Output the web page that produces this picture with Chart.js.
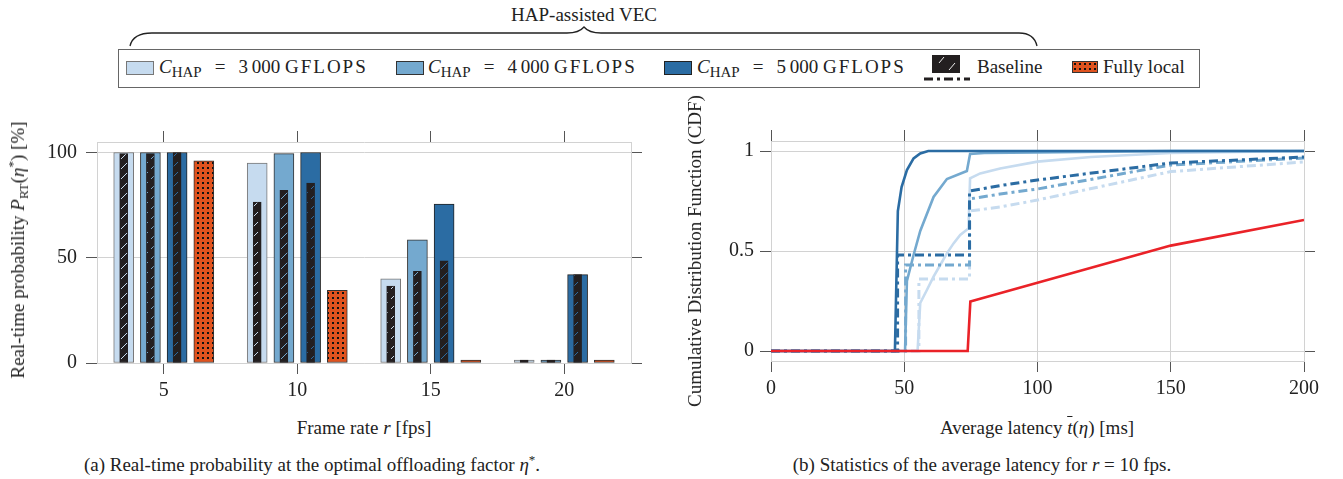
<!DOCTYPE html>
<html>
<head>
<meta charset="utf-8">
<script src="https://cdn.jsdelivr.net/npm/chart.js@4.4.1/dist/chart.umd.min.js"></script>
<style>
    body {
        margin: 0;
        width: 1343px;
        height: 479px;
        position: relative;
        overflow: hidden;
        background: #fff;
        font-family: "Liberation Serif", "DejaVu Serif", serif;
        color: #222;
    }
    .txt {
        position: absolute;
        white-space: nowrap;
        font-size: 19px;
        transform: translate(-50%, -50%);
    }
    .rot {
        transform: translate(-50%, -50%) rotate(-90deg);
    }
    .sub {
        font-size: 13px;
        position: relative;
        top: 4px;
    }
    .sup {
        font-size: 13px;
        position: relative;
        top: -7px;
    }
    #legendBox {
        position: absolute;
        left: 118px;
        top: 49px;
        width: 1080px;
        height: 37px;
        border: 1.3px solid #666;
    }
    .swatch {
        position: absolute;
        top: 61px;
        width: 26px;
        height: 12px;
    }
    .legText {
        position: absolute;
        top: 67px;
        font-size: 19px;
        white-space: nowrap;
        transform: translateY(-50%);
    }
    .legText .sub { font-size: 15px; top: 4px; }
    .eq { margin: 0 13px; }
    .gf { letter-spacing: 2px; }
    #barWrap { position: absolute; left: 0; top: 110px; }
    #cdfWrap { position: absolute; left: 680px; top: 110px; }
</style>
</head>
<body>

<svg width="1343" height="60" style="position:absolute;left:0;top:0">
    <path d="M130,46 Q133,33 152,33 L567,33 Q579,33 584,27 Q589,33 601,33 L1019,33 Q1034,33 1037,46"
          fill="none" stroke="#222" stroke-width="1.3"/>
</svg>
<div class="txt" style="left:584px;top:15px">HAP-assisted VEC</div>

<div id="legendBox"></div>
<div class="swatch" style="left:126px;background:#c6dbef;border:1px solid #777"></div>
<div class="legText" style="left:159px"><i>C</i><span class="sub">HAP</span><span class="eq">=</span>3&#8201;000 <span class="gf">GFLOPS</span></div>
<div class="swatch" style="left:396px;background:#74a9cf;border:1px solid #333"></div>
<div class="legText" style="left:428px"><i>C</i><span class="sub">HAP</span><span class="eq">=</span>4&#8201;000 <span class="gf">GFLOPS</span></div>
<div class="swatch" style="left:664px;background:#2b6ca3;border:1px solid #222"></div>
<div class="legText" style="left:697px"><i>C</i><span class="sub">HAP</span><span class="eq">=</span>5&#8201;000 <span class="gf">GFLOPS</span></div>
<canvas id="legBaseline" width="48" height="30" style="position:absolute;left:922px;top:52px"></canvas>
<div class="legText" style="left:977px">Baseline</div>
<canvas id="legLocal" width="26" height="12" style="position:absolute;left:1072px;top:61px"></canvas>
<div class="legText" style="left:1103px">Fully local</div>

<div id="barWrap"><canvas id="barChart" width="680" height="300"></canvas></div>
<div id="cdfWrap"><canvas id="cdfChart" width="663" height="300"></canvas></div>

<div class="txt rot" style="left:18px;top:250px">Real-time probability <i>P</i><span class="sub">RT</span>(<i>η</i><span class="sup">*</span>) [%]</div>
<div class="txt" style="left:364px;top:428px">Frame rate <i>r</i> [fps]</div>
<div class="txt rot" style="left:695px;top:251px">Cumulative Distribution Function (CDF)</div>
<div class="txt" style="left:1037px;top:428px">Average latency <i style="text-decoration:overline">t</i>(<i>η</i>) [ms]</div>
<div class="txt" style="left:312px;top:465px">(a) Real-time probability at the optimal offloading factor <i>η</i><span class="sup">*</span>.</div>
<div class="txt" style="left:982px;top:465px">(b) Statistics of the average latency for <i>r</i> = 10 fps.</div>

<script>
// Datos (a): probabilidad de tiempo real [%]
const frameRates = [5, 10, 15, 20];
const hap3000 = [100, 95, 40, 0];
const hap4000 = [100, 99.5, 58.5, 0];
const hap5000 = [100, 100, 75.5, 42];
const baseline3000 = [99.5, 76.5, 36.5, 0];
const baseline4000 = [99.5, 82, 43.5, 0];
const baseline5000 = [100, 85.5, 48.5, 42];
const fullyLocal = [96, 34.5, 0, 0];
const rateTicks = [5, 10, 15, 20];
const probTicks = [0, 50, 100];

// Datos (b): CDF de la latencia media [ms]
const lat5000 = [0, 46.5, 47.6, 49, 51, 53.5, 56, 59, 200];
const cdf5000 = [0, 0, 0.70, 0.82, 0.905, 0.963, 0.988, 1, 1];
const lat4000 = [0, 50.3, 51, 53.5, 56, 61, 66, 73.5, 74.7, 80, 100, 150, 200];
const cdf4000 = [0, 0, 0.35, 0.48, 0.60, 0.77, 0.86, 0.90, 0.985, 0.99, 0.993, 1, 1];
const lat3000 = [0, 55, 56, 58.5, 61, 63.5, 66, 68.5, 71, 74.1, 74.7, 78.5, 86, 100, 120, 150, 200];
const cdf3000 = [0, 0, 0.24, 0.305, 0.372, 0.43, 0.488, 0.538, 0.58, 0.613, 0.863, 0.888, 0.913, 0.947, 0.97, 0.99, 1];
const latBase5000 = [0, 47.5, 47.5, 74.5, 74.5, 86, 100, 150, 200];
const cdfBase5000 = [0, 0, 0.48, 0.48, 0.80, 0.827, 0.855, 0.94, 0.97];
const latBase4000 = [0, 50.5, 50.5, 74.5, 74.5, 86, 100, 150, 200];
const cdfBase4000 = [0, 0, 0.43, 0.43, 0.76, 0.785, 0.81, 0.93, 0.965];
const latBase3000 = [0, 55.5, 55.5, 74.5, 74.5, 86, 100, 150, 200];
const cdfBase3000 = [0, 0, 0.36, 0.36, 0.70, 0.72, 0.755, 0.897, 0.945];
const latLocal = [0, 73.8, 74.8, 150, 200];
const cdfLocal = [0, 0, 0.247, 0.527, 0.655];
const latencyTicks = [0, 50, 100, 150, 200];
const cdfTicks = [0, 0.5, 1];

const lightBlue = '#c6dbef';
const midBlue = '#74a9cf';
const darkBlue = '#2b6ca3';
const orange = '#e0531f';
const red = '#ea2228';
const ink = '#231f20';
const gridColor = '#d2d2d2';
const tickColor = '#555';
const dashDot = [9, 4, 3, 4];
const tickFont = { family: 'Liberation Serif', size: 20 };

document.addEventListener('DOMContentLoaded', function() {
    initBarChart();
    initCdfChart();
    drawLegendSwatches();
});

function makeHatch(ctx, lineColor) {
    const c = document.createElement('canvas');
    c.width = 10;
    c.height = 10;
    const g = c.getContext('2d');
    g.fillStyle = ink;
    g.fillRect(0, 0, 10, 10);
    g.strokeStyle = lineColor;
    g.lineWidth = 1;
    g.beginPath();
    g.moveTo(1, 9);
    g.lineTo(8, 2);
    g.stroke();
    return ctx.createPattern(c, 'repeat');
}

function makeDots(ctx) {
    const c = document.createElement('canvas');
    c.width = 5;
    c.height = 5;
    const g = c.getContext('2d');
    g.fillStyle = orange;
    g.fillRect(0, 0, 5, 5);
    g.fillStyle = '#111';
    g.fillRect(2, 2, 2, 2);
    return ctx.createPattern(c, 'repeat');
}

function fixedTicks(values) {
    return function(scale) {
        scale.ticks = values.map(v => ({ value: v }));
    };
}

function plainLabel(value) {
    return String(value);
}

function barPoints(values, offset) {
    return frameRates.map((r, i) => ({ x: r + offset, y: values[i] }));
}

function linePoints(xs, ys) {
    return xs.map((x, i) => ({ x: x, y: ys[i] }));
}

function frameScales(min, max, ticks, xHeight, yWidth) {
    return {
        x: {
            type: 'linear', position: 'bottom', min: min.x, max: max.x, offset: false,
            afterBuildTicks: fixedTicks(ticks.x),
            afterFit: s => { s.height = xHeight; },
            grid: { offset: false, tickLength: 11, tickColor: tickColor, color: gridColor },
            border: { color: gridColor },
            ticks: { font: tickFont, color: '#222', padding: 5, maxRotation: 0, callback: plainLabel }
        },
        xTop: {
            type: 'linear', position: 'top', min: min.x, max: max.x, offset: false,
            afterBuildTicks: fixedTicks(ticks.x),
            afterFit: s => { s.height = 11; },
            grid: { offset: false, drawOnChartArea: false, tickLength: 11, tickColor: tickColor },
            border: { color: gridColor },
            ticks: { display: false }
        },
        y: {
            type: 'linear', position: 'left', min: min.y, max: max.y,
            afterBuildTicks: fixedTicks(ticks.y),
            afterFit: s => { s.width = yWidth; },
            grid: { color: gridColor, tickLength: 11, tickColor: tickColor },
            border: { color: gridColor },
            ticks: { font: tickFont, color: '#222', padding: ticks.yPad, callback: plainLabel }
        },
        yRight: {
            type: 'linear', position: 'right', min: min.y, max: max.y,
            afterBuildTicks: fixedTicks(ticks.y),
            afterFit: s => { s.width = 11; },
            grid: { drawOnChartArea: false, tickLength: 11, tickColor: tickColor },
            border: { color: gridColor },
            ticks: { display: false }
        }
    };
}

function initBarChart() {
    const canvas = document.getElementById('barChart');
    const ctx = canvas.getContext('2d');

    const hap = (label, values, offset, fill, border) => ({
        label: label, data: barPoints(values, offset),
        backgroundColor: fill, borderColor: border, borderWidth: 1,
        barThickness: 20, order: 2
    });
    const base = (values, offset, hatch) => ({
        label: 'Baseline', data: barPoints(values, offset),
        backgroundColor: makeHatch(ctx, hatch), borderColor: ink, borderWidth: 1,
        barThickness: 8, order: 1
    });

    const scales = frameScales({ x: 2.5, y: 0 }, { x: 22.5, y: 105 },
        { x: rateTicks, y: probTicks, yPad: 9 }, 47, 97);
    scales.x.grid.drawOnChartArea = false;

    new Chart(ctx, {
        type: 'bar',
        data: {
            datasets: [
                hap('C_HAP = 3 000 GFLOPS', hap3000, -1.5, lightBlue, '#777'),
                hap('C_HAP = 4 000 GFLOPS', hap4000, -0.5, midBlue, '#333'),
                hap('C_HAP = 5 000 GFLOPS', hap5000, 0.5, darkBlue, '#222'),
                {
                    label: 'Fully local', data: barPoints(fullyLocal, 1.5),
                    backgroundColor: makeDots(ctx), borderColor: '#333', borderWidth: 1,
                    barThickness: 20, order: 2
                },
                base(baseline3000, -1.5, lightBlue),
                base(baseline4000, -0.5, midBlue),
                base(baseline5000, 0.5, darkBlue)
            ]
        },
        options: {
            responsive: false,
            animation: false,
            layout: { padding: { left: 0, right: 38, top: 21, bottom: 0 } },
            datasets: { bar: { grouped: false, borderSkipped: false, minBarLength: 3 } },
            plugins: { legend: { display: false }, tooltip: { enabled: false } },
            scales: scales
        }
    });
}

function initCdfChart() {
    const ctx = document.getElementById('cdfChart').getContext('2d');

    const line = (label, xs, ys, color, dashed, order) => ({
        label: label, data: linePoints(xs, ys),
        borderColor: color, borderWidth: dashed ? 3 : 2.6,
        borderDash: dashed ? dashDot : [],
        pointRadius: 0, tension: 0, fill: false, order: order
    });

    new Chart(ctx, {
        type: 'line',
        data: {
            datasets: [
                line('Fully local', latLocal, cdfLocal, red, false, 0),
                line('C_HAP = 5 000 GFLOPS', lat5000, cdf5000, darkBlue, false, 1),
                line('Baseline 5 000', latBase5000, cdfBase5000, darkBlue, true, 2),
                line('Baseline 4 000', latBase4000, cdfBase4000, midBlue, true, 3),
                line('C_HAP = 4 000 GFLOPS', lat4000, cdf4000, midBlue, false, 4),
                line('Baseline 3 000', latBase3000, cdfBase3000, lightBlue, true, 5),
                line('C_HAP = 3 000 GFLOPS', lat3000, cdf3000, lightBlue, false, 6)
            ]
        },
        options: {
            responsive: false,
            animation: false,
            layout: { padding: { left: 0, right: 28, top: 20, bottom: 0 } },
            plugins: { legend: { display: false }, tooltip: { enabled: false } },
            scales: frameScales({ x: 0, y: -0.05 }, { x: 200, y: 1.05 },
                { x: latencyTicks, y: cdfTicks, yPad: 6 }, 49, 91)
        }
    });
}

function drawLegendSwatches() {
    // Baseline: barra negra rayada + línea de trazo y punto
    const b = document.getElementById('legBaseline').getContext('2d');
    b.fillStyle = ink;
    b.fillRect(10, 3, 28, 18);
    b.strokeStyle = '#eee';
    b.lineWidth = 1;
    b.beginPath();
    b.moveTo(17, 11); b.lineTo(22, 5);
    b.moveTo(27, 18); b.lineTo(33, 11);
    b.stroke();
    b.strokeStyle = ink;
    b.lineWidth = 3;
    b.setLineDash(dashDot);
    b.beginPath();
    b.moveTo(2, 27);
    b.lineTo(48, 27);
    b.stroke();

    // Fully local: naranja con puntos
    const l = document.getElementById('legLocal').getContext('2d');
    l.fillStyle = makeDots(l);
    l.fillRect(0, 0, 26, 12);
    l.strokeStyle = '#333';
    l.lineWidth = 1;
    l.strokeRect(0.5, 0.5, 25, 11);
}
</script>
</body>
</html>
